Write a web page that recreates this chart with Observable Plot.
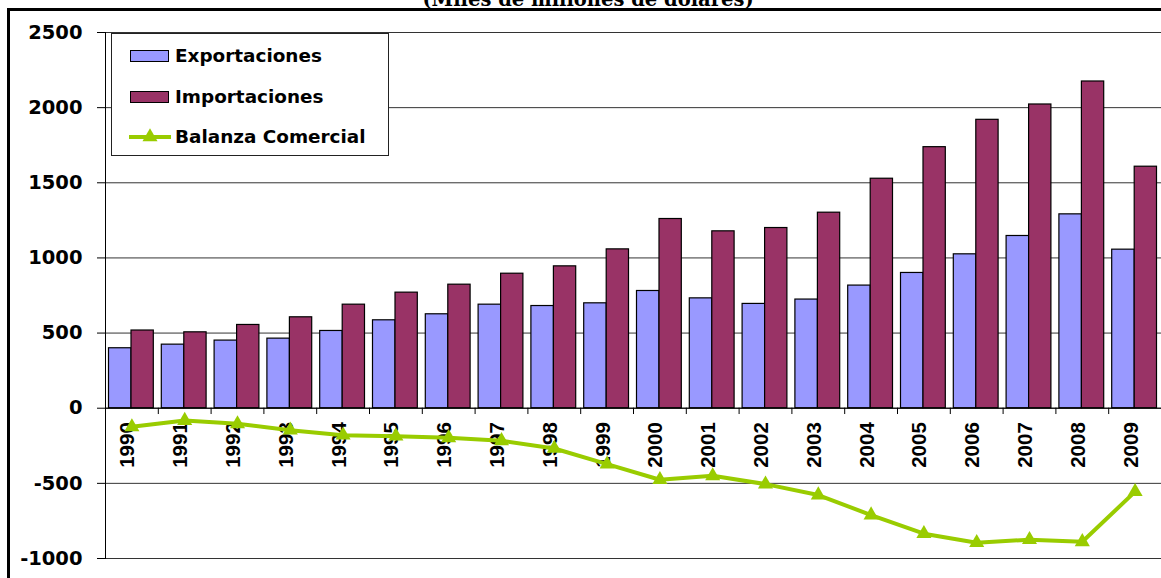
<!DOCTYPE html>
<html>
<head>
<meta charset="utf-8">
<script src="https://cdn.jsdelivr.net/npm/d3@7"></script>
<script src="https://cdn.jsdelivr.net/npm/@observablehq/plot@0.6"></script>
<style>
  html, body { margin: 0; padding: 0; background: #fff; }
  #wrap { position: relative; width: 1161px; height: 578px; overflow: hidden; }
  #title { position: absolute; left: 0; width: 1176px; top: -10.5px; text-align: center;
           font-family: "DejaVu Serif", serif; font-weight: bold; font-size: 19.5px; line-height: 19.5px; color: #000; }
  #frame { position: absolute; left: 7px; top: 8px; width: 1200px; height: 600px;
           border-left: 3px solid #000; border-top: 3px solid #000; pointer-events: none; }
  #chart { position: absolute; left: 0; top: 0; }
  #legend { position: absolute; left: 111px; top: 33px; width: 276px; height: 121px;
            border: 1px solid #222; background: #fff; }
  .item { position: absolute; left: 0; height: 20px; font-family: "DejaVu Sans", sans-serif;
          font-weight: bold; font-size: 18.4px; line-height: 20px; color: #000; }
  .item span { position: absolute; left: 63px; top: 0; white-space: nowrap; }
  .sw { position: absolute; left: 18px; top: 4px; width: 37px; height: 10px; border: 1px solid #000; }
</style>
</head>
<body>
<div id="wrap">
  <div id="chart"></div>
  <div id="title">(Miles de millones de dólares)</div>
  <div id="frame"></div>
  <div id="legend"></div>
</div>
<script>
const years = ["1990","1991","1992","1993","1994","1995","1996","1997","1998","1999",
               "2000","2001","2002","2003","2004","2005","2006","2007","2008","2009"];
const exportaciones = [399, 423, 450, 463, 514, 585, 625, 689, 680, 698,
                       780, 731, 694, 723, 816, 900, 1024, 1146, 1290, 1055];
const importaciones = [517, 505, 554, 605, 689, 769, 822, 895, 944, 1057,
                       1259, 1177, 1199, 1301, 1527, 1737, 1919, 2021, 2174, 1607];
const balanza = [-124, -82, -104, -146, -180, -186, -197, -217, -268, -372,
                 -476, -450, -505, -578, -711, -835, -895, -875, -889, -555];
const yTicks = [-1000, -500, 0, 500, 1000, 1500, 2000, 2500];
const seriesNames = ["Exportaciones", "Importaciones", "Balanza Comercial"];
const colors = {exp: "#9999FF", imp: "#993366", bal: "#99CC00"};

const data = years.map((y, i) => ({year: y, exp: exportaciones[i], imp: importaciones[i], bal: balanza[i]}));

const W = 1161, H = 578, ML = 105, MR = 0;
const bw = (W - ML - MR) / years.length;

const chart = Plot.plot({
  width: W, height: H,
  marginLeft: ML, marginRight: MR, marginTop: 32, marginBottom: 20,
  style: {fontFamily: "DejaVu Sans, sans-serif", fontSize: "19.5px", fontWeight: "bold", color: "#000", background: "transparent"},
  x: {type: "band", domain: years, padding: 0, round: false, axis: null},
  y: {domain: [-1000, 2500], ticks: yTicks, tickSize: 8, tickPadding: 15, tickFormat: d => String(d), label: null, line: true},
  marks: [
    Plot.ruleY(yTicks, {stroke: "#000", strokeWidth: 1, strokeOpacity: 0.8}),
    Plot.barY(data, {x: "year", y: "exp", fill: colors.exp, stroke: "#000", strokeWidth: 1.2, insetLeft: 3.5, insetRight: bw - 26}),
    Plot.barY(data, {x: "year", y: "imp", fill: colors.imp, stroke: "#000", strokeWidth: 1.2, insetLeft: 26, insetRight: 4.5}),
    Plot.ruleY([0], {stroke: "#000", strokeWidth: 1}),
    Plot.ruleX(years, {x: d => d, y1: 0, y2: -42, dx: -bw / 2, stroke: "#000", strokeWidth: 1}),
    Plot.ruleX([years[0]], {x: d => d, y1: -1000, y2: 2500, dx: -bw / 2, stroke: "#000", strokeWidth: 1}),
    Plot.text(years, {x: d => d, y: 0, text: d => d, rotate: -90, textAnchor: "end", dy: 14, dx: -4,
                      fontSize: 20.5, fontWeight: "bold", fontFamily: "Liberation Sans, Arial, sans-serif", fill: "#000"}),
    Plot.line(data, {x: "year", y: "bal", stroke: colors.bal, strokeWidth: 4}),
    Plot.dot(data, {x: "year", y: "bal", symbol: "triangle", r: 5.6, fill: colors.bal, stroke: null})
  ]
});
document.getElementById("chart").appendChild(chart);

// Legend
const legend = document.getElementById("legend");
const tops = [12, 53, 93];
seriesNames.forEach((name, i) => {
  const it = document.createElement("div");
  it.className = "item";
  it.style.top = tops[i] + "px";
  it.style.width = "270px";
  if (i < 2) {
    const sw = document.createElement("div");
    sw.className = "sw";
    sw.style.background = i === 0 ? colors.exp : colors.imp;
    it.appendChild(sw);
  } else {
    const svg = document.createElementNS("http://www.w3.org/2000/svg", "svg");
    svg.setAttribute("width", "45"); svg.setAttribute("height", "20");
    svg.style.position = "absolute"; svg.style.left = "16px"; svg.style.top = "0px";
    const ln = document.createElementNS("http://www.w3.org/2000/svg", "line");
    ln.setAttribute("x1", "1"); ln.setAttribute("x2", "43"); ln.setAttribute("y1", "10"); ln.setAttribute("y2", "10");
    ln.setAttribute("stroke", colors.bal); ln.setAttribute("stroke-width", "4");
    svg.appendChild(ln);
    const tri = document.createElementNS("http://www.w3.org/2000/svg", "path");
    tri.setAttribute("d", d3.symbol(d3.symbolTriangle, 98)());
    tri.setAttribute("transform", "translate(22,10)");
    tri.setAttribute("fill", colors.bal);
    svg.appendChild(tri);
    it.appendChild(svg);
  }
  const sp = document.createElement("span");
  sp.textContent = name;
  it.appendChild(sp);
  legend.appendChild(it);
});
</script>
</body>
</html>
